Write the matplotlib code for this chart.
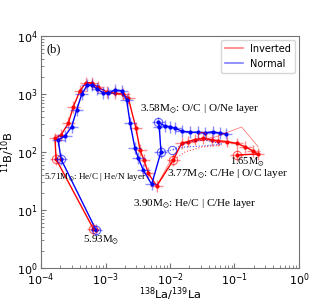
import numpy as np
import matplotlib
matplotlib.use('Agg')
import matplotlib.pyplot as plt
from matplotlib.lines import Line2D

# Inverted hierarchy track, from 1.65 Msun outwards to the surface (5.93 Msun)
inv_la = [0.109, 0.231, 0.194, 0.146, 0.108, 0.0757, 0.0561, 0.0444, 0.0328, 0.0244,
          0.0192, 0.0152, 0.01125, 6.22e-3, 4.61e-3, 3.95e-3, 3.43e-3, 2.97e-3, 2.26e-3,
          1.89e-3, 1.40e-3, 1.04e-3, 7.57e-4, 6.11e-4, 4.99e-4, 4.03e-4, 3.17e-4,
          2.65e-4, 2.04e-4, 1.65e-4, 1.71e-4, 6.5e-4]
inv_b = [88.8, 92.4, 104, 123, 141, 151, 157, 161, 172, 164,
         151, 143, 72.8, 25.9, 42.9, 72.8, 108, 256, 843,
         988, 1028, 1096, 1306, 1567, 1567, 1148, 604,
         313, 196, 172, 75.7, 4.7]

# Normal hierarchy track
nor_la = [0.0738, 0.0596, 0.0469, 0.0349, 0.0275, 0.0204, 0.0152, 0.0120, 0.0100,
          8.35e-3, 6.6e-3, 6.82e-3, 7.24e-3, 5.2e-3, 3.85e-3, 3.23e-3, 2.86e-3,
          2.40e-3, 2.13e-3, 1.78e-3, 1.40e-3, 1.10e-3, 9.25e-4, 7.46e-4, 6.24e-4,
          5.23e-4, 4.28e-4, 3.57e-4, 2.99e-4, 2.36e-4, 1.85e-4, 2.04e-4, 7.13e-4]
nor_b = [208, 210, 224, 215, 219, 219, 230, 256, 273,
         281, 323, 270, 101, 27.7, 48.9, 77.9, 116,
         320, 788, 1140, 1172, 1028, 1053, 1205, 1429,
         1429, 988, 530, 273, 189, 161, 75.7, 4.52]

# layer boundary points (open circles)
inv_mark_la = [0.109, 0.01125, 0.031, 1.71e-4, 6.5e-4]
inv_mark_b = [88.8, 72.8, 189, 75.7, 4.7]
nor_mark_la = [6.6e-3, 7.24e-3, 2.04e-4, 7.13e-4, 0.0108]
nor_mark_b = [323, 101, 75.7, 4.52, 108]

# thin side tracks
nor_dot_la = [7.24e-3, 0.01074, 0.0171, 0.0325, 0.064, 0.0349, 0.019, 0.01074]
nor_dot_b = [101, 108, 122, 127, 137, 161, 149, 108]
inv_dot_la = [6.22e-3, 0.01125, 0.0171, 0.0313, 0.064]
inv_dot_b = [25.9, 72.8, 100, 122, 132]
inv_thin_la = [6.22e-3, 9.3e-3, 0.0152, 0.0499, 0.129, 0.234]
inv_thin_b = [25.9, 59.7, 139, 181, 270, 122]

err_fac = 1.26

fig = plt.figure(figsize=(3.32, 3.02), dpi=100)
ax = fig.add_axes([0.1235, 0.1126, 0.7771, 0.7682])

def draw_track(la, b, col):
    la = np.array(la)
    b = np.array(b)
    xerr = [la - la / err_fac, la * err_fac - la]
    yerr = [b - b / err_fac, b * err_fac - b]
    ax.errorbar(la, b, xerr=xerr, yerr=yerr, fmt='none', ecolor=col, elinewidth=1.0, alpha=0.45)
    ax.plot(la, b, '.-', color=col, lw=1.0, ms=4)

draw_track(inv_la, inv_b, 'red')
draw_track(nor_la, nor_b, 'blue')

ax.plot(nor_dot_la, nor_dot_b, ':', color='blue', lw=0.8, alpha=0.7)
ax.plot(inv_dot_la, inv_dot_b, ':', color='red', lw=0.8, alpha=0.7)
ax.plot(inv_thin_la, inv_thin_b, '-', color='red', lw=0.5, alpha=0.6)

ax.plot(inv_mark_la, inv_mark_b, 'o', mfc='none', mec='red', ms=6, mew=0.8, alpha=0.6)
ax.plot(nor_mark_la, nor_mark_b, 'o', mfc='none', mec='blue', ms=6, mew=0.8, alpha=0.6)

ax.set_xscale('log')
ax.set_yscale('log')
ax.set_xlim(1e-4, 1)
ax.set_ylim(1, 1e4)
ax.tick_params(which='both', direction='in', labelsize=8, color='0.45')
ax.tick_params(which='major', pad=2.5)
for sp in ax.spines.values():
    sp.set_color('0.45')
ax.set_xlabel(r'$^{138}$La/$^{139}$La', fontsize=8.2)
ax.set_ylabel(r'$^{11}$B/$^{10}$B', fontsize=8.2)
ax.xaxis.set_label_coords(0.5, -0.074)
ax.yaxis.set_label_coords(-0.094, 0.5)

serif = dict(family='Liberation Serif', math_fontfamily='stix', transform=ax.transAxes, va='center')
ax.text(0.023, 0.944, '(b)', fontsize=9, **serif)
ax.text(0.384, 0.685, r'3.58M$_{\odot}$: O/C | O/Ne layer', fontsize=8, **serif)
ax.text(0.012, 0.392, r'5.71M$_{\odot}$: He/C | He/N layer', fontsize=6.6, **serif)
ax.text(0.488, 0.405, r'3.77M$_{\odot}$: C/He | O/C layer', fontsize=8.2, **serif)
ax.text(0.357, 0.276, r'3.90M$_{\odot}$: He/C | C/He layer', fontsize=8, **serif)
ax.text(0.163, 0.121, r'5.93M$_{\odot}$', fontsize=7.8, **serif)
ax.text(0.733, 0.457, r'1.65M$_{\odot}$', fontsize=7.5, **serif)

handles = [Line2D([], [], color='red', alpha=0.5, lw=1.2),
           Line2D([], [], color='blue', alpha=0.5, lw=1.2)]
ax.legend(handles, ['Inverted', 'Normal'], loc='upper right', fontsize=7,
          handlelength=1.8, borderaxespad=0.4)

fig.savefig('out.png', dpi=100)
